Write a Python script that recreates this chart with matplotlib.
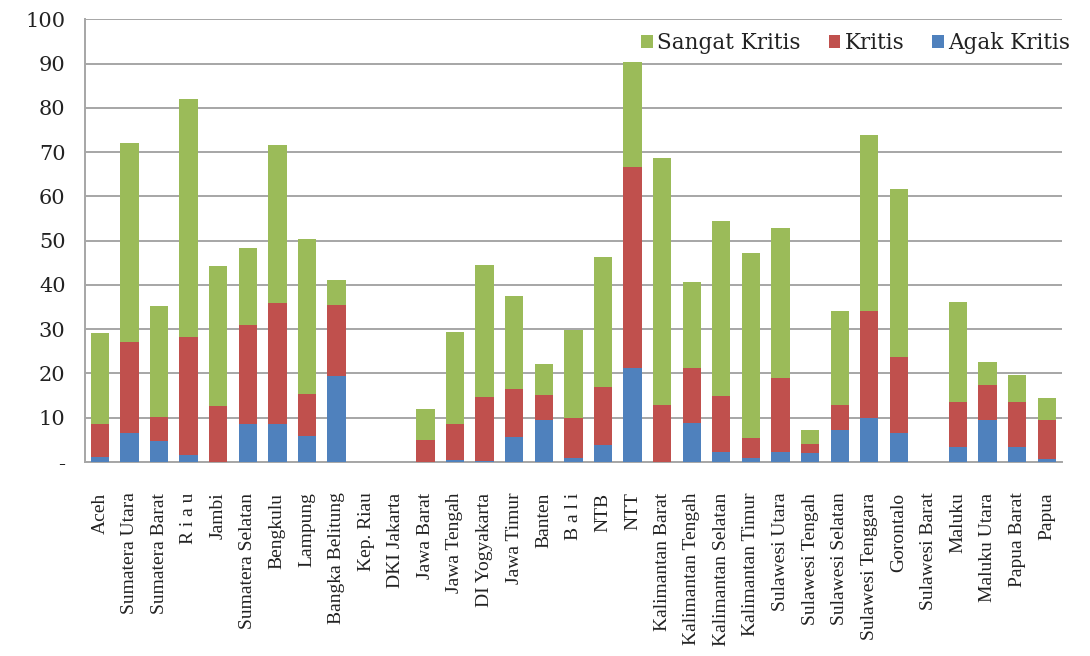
import numpy as np
import matplotlib
matplotlib.use("Agg")
import matplotlib.pyplot as plt

# ------------------------------
# Data
# ------------------------------
provinces = [
    "Aceh", "Sumatera Utara", "Sumatera Barat", "R i a u", "Jambi",
    "Sumatera Selatan", "Bengkulu", "Lampung", "Bangka Belitung", "Kep. Riau",
    "DKI Jakarta", "Jawa Barat", "Jawa Tengah", "DI Yogyakarta", "Jawa Timur",
    "Banten", "B a l i", "NTB", "NTT", "Kalimantan Barat",
    "Kalimantan Tengah", "Kalimantan Selatan", "Kalimantan Timur", "Sulawesi Utara",
    "Sulawesi Tengah", "Sulawesi Selatan", "Sulawesi Tenggara", "Gorontalo",
    "Sulawesi Barat", "Maluku", "Maluku Utara", "Papua Barat", "Papua",
]

# stacked segments (bottom to top)
agak_kritis = [1.2, 6.5, 4.8, 1.5, 0.0, 8.6, 8.6, 5.9, 19.4, 0.0,
               0.0, 0.0, 0.5, 0.3, 5.6, 9.6, 0.8, 3.8, 21.2, 0.0,
               8.7, 2.2, 0.8, 2.3, 2.1, 7.2, 9.9, 6.5,
               0.0, 3.5, 9.5, 3.5, 0.7]
kritis = [7.4, 20.5, 5.4, 26.7, 12.7, 22.4, 27.4, 9.4, 16.1, 0.0,
          0.0, 5.0, 8.1, 14.3, 11.0, 5.5, 9.2, 13.1, 45.4, 12.9,
          12.5, 12.6, 4.7, 16.7, 1.9, 5.7, 24.1, 17.3,
          0.0, 10.1, 7.9, 10.1, 8.9]
sangat_kritis = [20.5, 45.0, 25.1, 53.8, 31.6, 17.4, 35.6, 35.1, 5.6, 0.0,
                 0.0, 6.9, 20.7, 30.0, 21.0, 7.0, 19.8, 29.5, 23.8, 55.8,
                 19.4, 39.6, 41.6, 33.8, 3.2, 21.1, 39.9, 37.9,
                 0.0, 22.6, 5.3, 6.1, 4.9]

GREEN = "#9BBB59"
RED = "#C0504D"
BLUE = "#4F81BD"
GRID = "#A6A6A6"

# ------------------------------
# Plot
# ------------------------------
fig = plt.figure(figsize=(10.9, 6.56), dpi=100)
ax = fig.add_axes([0.078, 0.2957, 0.896, 0.675])

x = np.arange(len(provinces))
w = 0.62
a = np.array(agak_kritis)
k = np.array(kritis)
s = np.array(sangat_kritis)

b_agak = ax.bar(x, a, w, color=BLUE, label="Agak Kritis", zorder=3)
b_krit = ax.bar(x, k, w, bottom=a, color=RED, label="Kritis", zorder=3)
b_sang = ax.bar(x, s, w, bottom=a + k, color=GREEN, label="Sangat Kritis", zorder=3)

ax.set_xlim(-0.5, len(provinces) - 0.5)
ax.set_ylim(0, 100)
ax.set_yticks(np.arange(0, 101, 10))
ax.set_yticklabels(["-"] + [str(v) for v in range(10, 101, 10)],
                   fontsize=15, family="DejaVu Serif", color="#222222")
ax.yaxis.grid(True, color=GRID, linewidth=1.4, zorder=0)
ax.set_axisbelow(True)

ax.set_xticks(x)
ax.set_xticklabels(provinces, rotation=90, ha="center", va="top",
                   fontsize=14, family="Liberation Serif", color="#222222")
ax.tick_params(axis="x", length=0, pad=22)
ax.tick_params(axis="y", length=0, pad=14)

for side in ["top", "right"]:
    ax.spines[side].set_visible(False)
for side in ["left", "bottom"]:
    ax.spines[side].set_color(GRID)
    ax.spines[side].set_linewidth(1.4)

leg = fig.legend(handles=[b_sang, b_krit, b_agak],
                 labels=["Sangat Kritis", "Kritis", "Agak Kritis"],
                 loc="center right", bbox_to_anchor=(1.0, 0.935), ncol=3,
                 frameon=False, handlelength=0.55, handleheight=0.55,
                 handletextpad=0.2, columnspacing=1.3,
                 prop={"family": "DejaVu Serif", "size": 15.5})
for t in leg.get_texts():
    t.set_color("#222222")

fig.savefig("out.png", dpi=100)
